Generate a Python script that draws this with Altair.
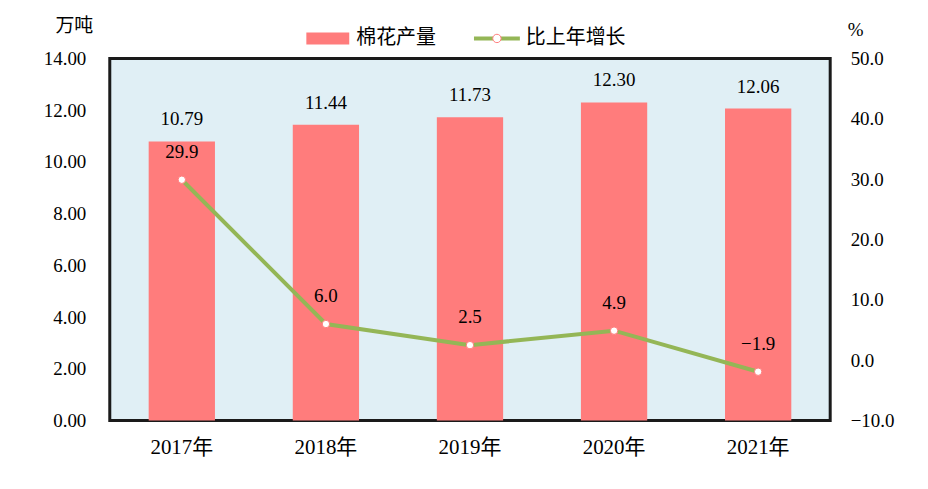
import altair as alt
import pandas as pd

years = ["2017年", "2018年", "2019年", "2020年", "2021年"]
output = [10.79, 11.44, 11.73, 12.30, 12.06]
growth = [29.9, 6.0, 2.5, 4.9, -1.9]

df = pd.DataFrame({"year": years, "output": output, "growth": growth})

FONT = "Liberation Serif, Noto Sans CJK SC"
BAR = "#ff7c7c"
LINE = "#94b656"

x = alt.X("year:N", sort=years, title=None,
          scale=alt.Scale(paddingInner=0.54, paddingOuter=0.27),
          axis=alt.Axis(labelAngle=0, labelFont=FONT, labelFontSize=21, labelColor="black",
                        labelPadding=16, ticks=False, domain=False))

yl = alt.Y("output:Q", scale=alt.Scale(domain=[0, 14], nice=False),
           axis=alt.Axis(values=[0, 2, 4, 6, 8, 10, 12, 14], format=".2f", orient="left",
                         labelFont=FONT, labelFontSize=19, labelColor="black", labelPadding=24,
                         ticks=False, domain=False, grid=False,
                         title="万吨", titleFont=FONT, titleFontSize=19, titleFontWeight="normal",
                         titleAngle=0, titleX=-36, titleY=-33, titleAlign="center",
                         titleBaseline="middle", titleColor="black"))

yr = alt.Y("growth:Q", scale=alt.Scale(domain=[-10, 50], nice=False),
           axis=alt.Axis(values=[-10, 0, 10, 20, 30, 40, 50], format=".1f", orient="right",
                         labelFont=FONT, labelFontSize=19, labelColor="black", labelPadding=20,
                         ticks=False, domain=False, grid=False,
                         title="%", titleFont=FONT, titleFontSize=19, titleFontWeight="normal",
                         titleAngle=0, titleX=25, titleY=-29, titleAlign="center",
                         titleBaseline="middle", titleColor="black"))

base = alt.Chart(df)

bars = base.mark_bar(color=BAR).encode(x=x, y=yl)
bar_text = base.mark_text(font=FONT, fontSize=19, dy=-22, color="black").encode(
    x=x, y=yl, text=alt.Text("output:Q", format=".2f"))

left = alt.layer(bars, bar_text)

line = base.mark_line(color=LINE, strokeWidth=4).encode(x=x, y=yr)
pts = base.mark_point(filled=True, fill="white", stroke=BAR, strokeWidth=1, size=55, opacity=1).encode(
    x=x, y=yr)
line_text = base.mark_text(font=FONT, fontSize=19, dy=-28, color="black").encode(
    x=x, y=yr, text=alt.Text("growth:Q", format=".1f"))

right = alt.layer(line, pts, line_text)

one = alt.Data(values=[{"a": 1}])
leg_rect = alt.Chart(one).mark_rect(color=BAR).encode(
    x=alt.value(197), x2=alt.value(240), y=alt.value(-26), y2=alt.value(-14))
leg_t1 = alt.Chart(one).mark_text(font=FONT, fontSize=20, align="left", baseline="middle",
                                  color="black", text="棉花产量").encode(
    x=alt.value(247), y=alt.value(-20))
leg_line = alt.Chart(one).mark_rule(color=LINE, strokeWidth=4).encode(
    x=alt.value(365), x2=alt.value(411), y=alt.value(-20))
leg_pt = alt.Chart(one).mark_point(filled=True, fill="white", stroke=BAR, strokeWidth=1,
                                   size=70, opacity=1).encode(
    x=alt.value(388), y=alt.value(-20))
leg_t2 = alt.Chart(one).mark_text(font=FONT, fontSize=20, align="left", baseline="middle",
                                  color="black", text="比上年增长").encode(
    x=alt.value(417), y=alt.value(-20))

legend = alt.layer(leg_rect, leg_t1, leg_line, leg_pt, leg_t2)

chart = alt.layer(left, right, legend).resolve_scale(y="independent").properties(
    width=722, height=363,
    background="white",
    autosize=alt.AutoSizeParams(type="none"),
    padding={"left": 102, "top": 50, "right": 90, "bottom": 55},
).configure_view(fill="#e0eff5", stroke="#1a1a1a", strokeWidth=3)

chart.save("out.html", embed_options={"renderer": "svg", "actions": False})
